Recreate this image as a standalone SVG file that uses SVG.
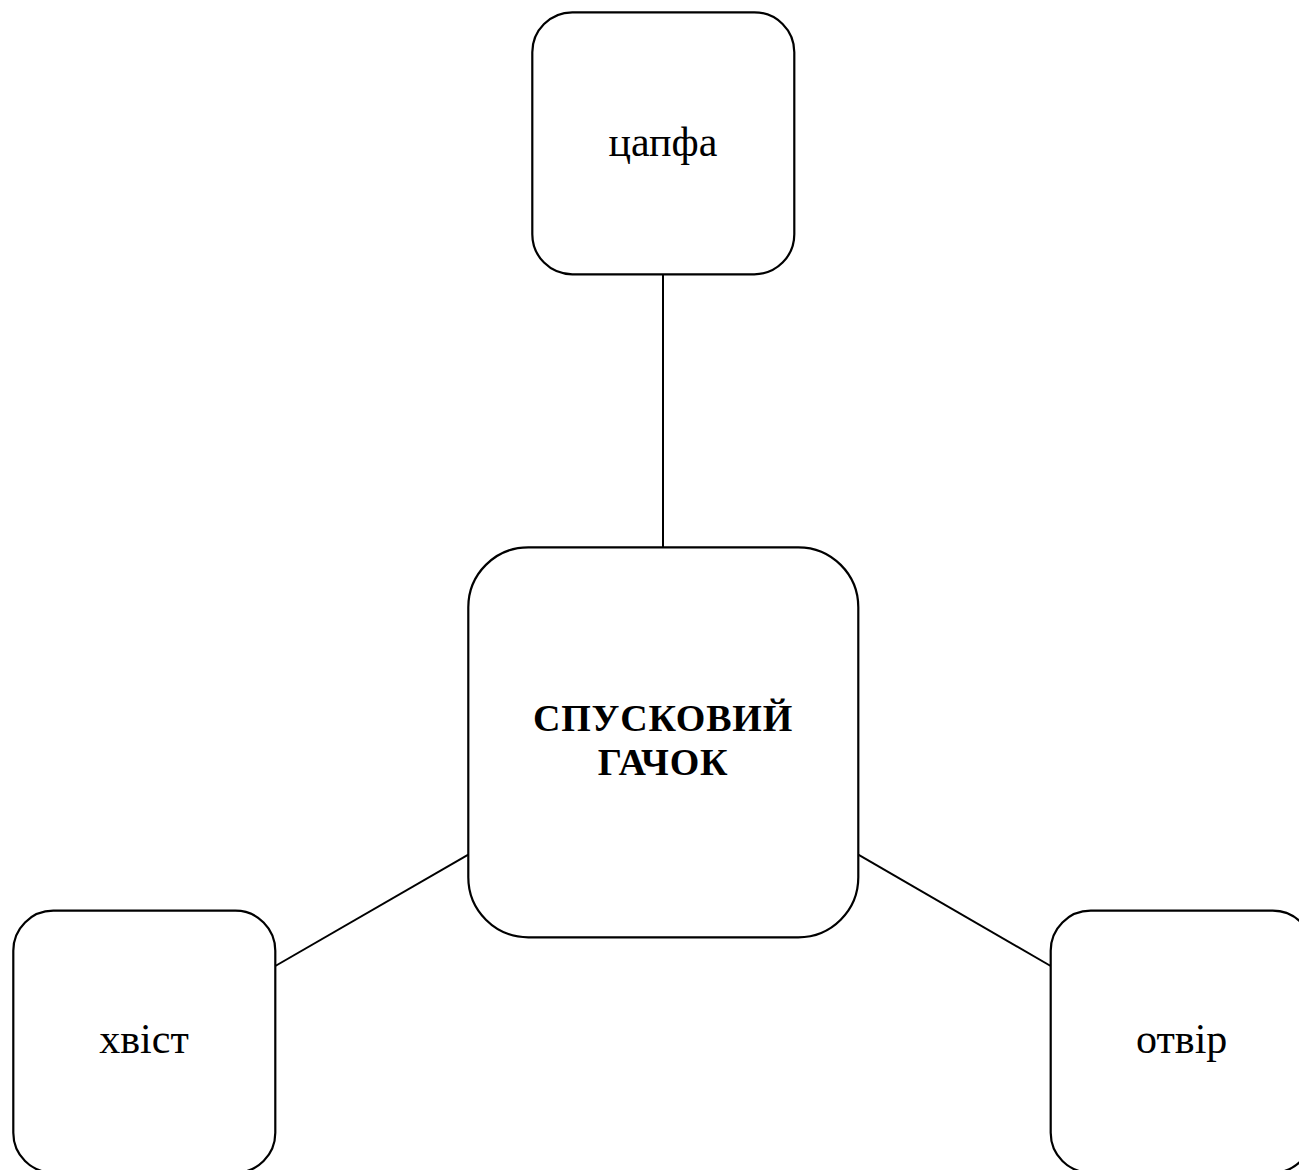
<svg xmlns="http://www.w3.org/2000/svg" width="1299" height="1170" viewBox="0 0 1299 1170">
<style>
.box{fill:#fff;stroke:#000;stroke-width:2.2}
.conn line{stroke:#000;stroke-width:2}
.lbl{font-family:"Liberation Serif","Times New Roman",serif;font-size:42px;fill:#000;text-anchor:middle}
.main{font-family:"Liberation Serif","Times New Roman",serif;font-size:38px;font-weight:bold;letter-spacing:0.8px;fill:#000;text-anchor:middle}
</style>
<rect width="1299" height="1170" fill="#fff"/>
<g id="connectors" class="conn">
<line x1="663" y1="274" x2="663" y2="547"/>
<line x1="468.3" y1="854.7" x2="275.3" y2="966"/>
<line x1="858.3" y1="854.7" x2="1050.7" y2="966"/>
</g>
<g id="node-tsapfa">
<rect class="box" x="532.3" y="12.3" width="262" height="262" rx="40"/>
<text class="lbl" x="663" y="156">цапфа</text>
</g>
<g id="node-main">
<rect class="box" x="468.3" y="547.3" width="390" height="390" rx="60"/>
<text class="main" x="663" y="731">СПУСКОВИЙ</text>
<text class="main" x="663" y="775">ГАЧОК</text>
</g>
<g id="node-khvist">
<rect class="box" x="13.3" y="910.7" width="262" height="262" rx="40"/>
<text class="lbl" x="144" y="1053">хвіст</text>
</g>
<g id="node-otvir">
<rect class="box" x="1050.7" y="910.7" width="262" height="262" rx="40"/>
<text class="lbl" x="1181.7" y="1053">отвір</text>
</g>
</svg>
